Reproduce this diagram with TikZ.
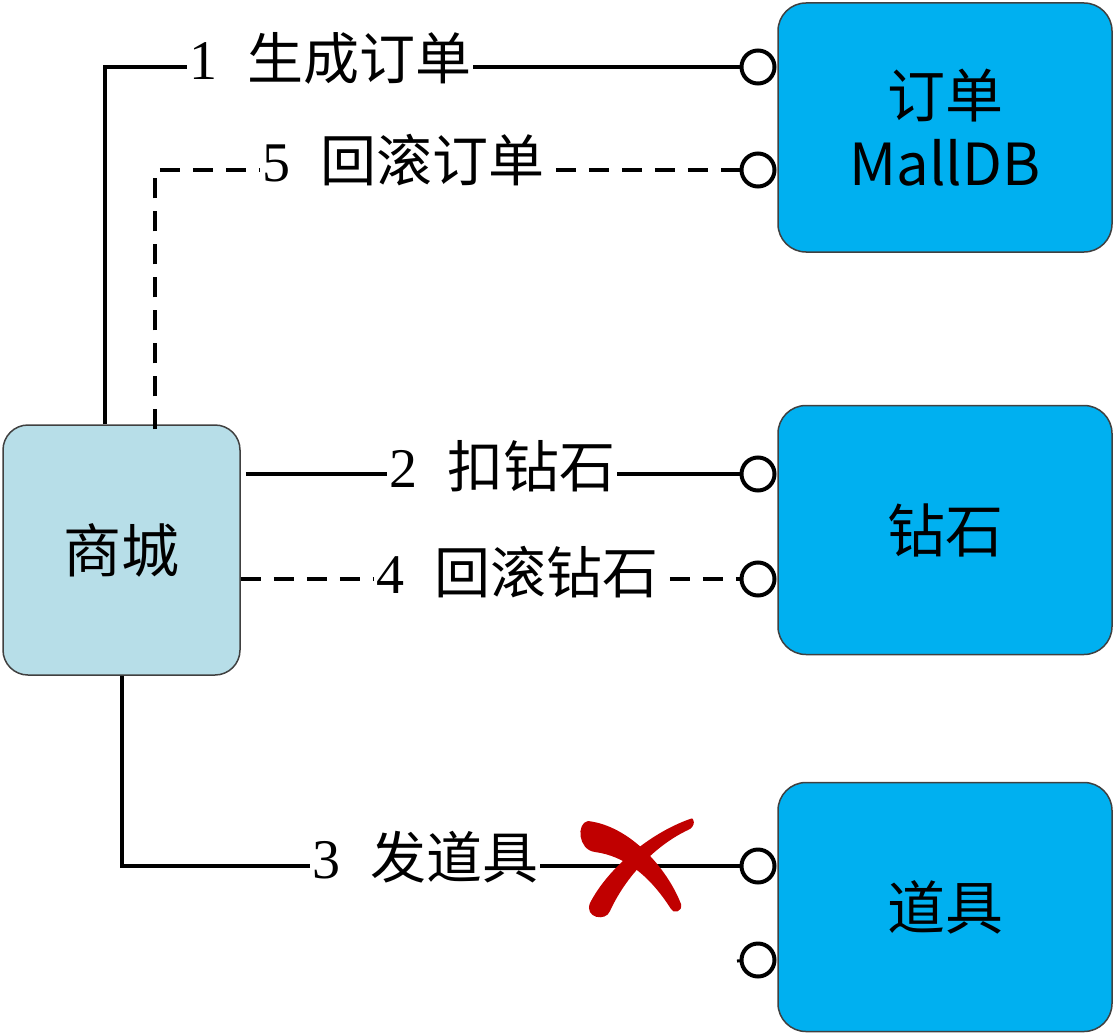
\documentclass[tikz,border=0pt]{standalone}
\usepackage{fontspec}
\setmainfont{Liberation Serif}
\newfontfamily\cjk{Noto Sans CJK SC}
\definecolor{dbblue}{HTML}{00B0F0}
\definecolor{malblue}{HTML}{B7DEE8}
\definecolor{edgegray}{HTML}{404040}
\definecolor{xred}{HTML}{C00000}
\begin{document}
\begin{tikzpicture}[x=1pt,y=-1pt,
  conn/.style={line width=4pt,black},
  dashconn/.style={line width=4pt,black,dash pattern=on 20pt off 13pt},
  port/.style={circle,draw=black,line width=4pt,fill=white,minimum size=33pt,inner sep=0pt},
  lbl/.style={fill=white,inner xsep=2pt,inner ysep=0pt,font=\fontsize{56}{64}\selectfont},
  dbbox/.style={draw=edgegray,line width=1.5pt,fill=dbblue,rounded corners=28pt,minimum width=334pt,minimum height=249pt,inner sep=0pt,align=center,font=\cjk\fontsize{58}{68}\selectfont},
  malbox/.style={draw=edgegray,line width=1.5pt,fill=malblue,rounded corners=25pt,minimum width=237pt,minimum height=250pt,inner sep=0pt,font=\cjk\fontsize{58}{68}\selectfont}
]
\useasboundingbox (0,0) rectangle (1115,1035);

% boxes
\node[malbox] (mall) at (121.5,550) {商城};
\node[dbbox] (db) at (945,127.5) {订单\\MallDB};
\node[dbbox] (dia) at (945,530) {钻石};
\node[dbbox] (item) at (945,907) {道具};

% connectors
\coordinate (p1) at (758,67);
\coordinate (p5) at (758,170);
\coordinate (p2) at (758,474);
\coordinate (p4) at (758,579);
\coordinate (p3) at (758,866);
\coordinate (p6) at (758,960);

\draw[conn] ([xshift=-16.5pt]mall.north) |- (p1);
\draw[dashconn] ([xshift=33.5pt,yshift=-5pt]mall.north) -- ([xshift=33.5pt]mall.north |- p5) -- (p5);
\draw[conn] ([xshift=5pt]mall.east |- p2) -- (p2);
\draw[dashconn] (mall.east |- p4) -- (p4);
\draw[conn] ([xshift=0.5pt]mall.south) |- (p3);
\draw[line width=3pt] (737,961) -- (p6);

% ports
\foreach \p in {p1,p5,p2,p4,p3,p6}
  \node[port] (c\p) at (\p) {};

% labels
\node[lbl] (l1) at (330,58) {1\hspace{30pt}{\cjk 生成订单}};
\node[lbl] (l5) at (403,160) {5\hspace{30pt}{\cjk 回滚订单}};
\node[lbl] (l2) at (502,466) {2\hspace{30pt}{\cjk 扣钻石}};
\node[lbl] (l4) at (517,572) {4\hspace{30pt}{\cjk 回滚钻石}};
\node[lbl] (l3) at (425,857) {3\hspace{30pt}{\cjk 发道具}};

% red cross
\fill[xred] (588,821) .. controls (630,826) and (667,868) .. (681,904)
  .. controls (683,912) and (673,914) .. (671,909)
  .. controls (650,876) and (625,856) .. (595,852)
  .. controls (578,850) and (576,823) .. (588,821) -- cycle;
\fill[xred] (690,819) .. controls (650,833) and (608,868) .. (590,903)
  .. controls (584,918) and (606,922) .. (610,911)
  .. controls (626,876) and (656,845) .. (688,830)
  .. controls (696,827) and (695,816) .. (690,819) -- cycle;
\end{tikzpicture}
\end{document}
